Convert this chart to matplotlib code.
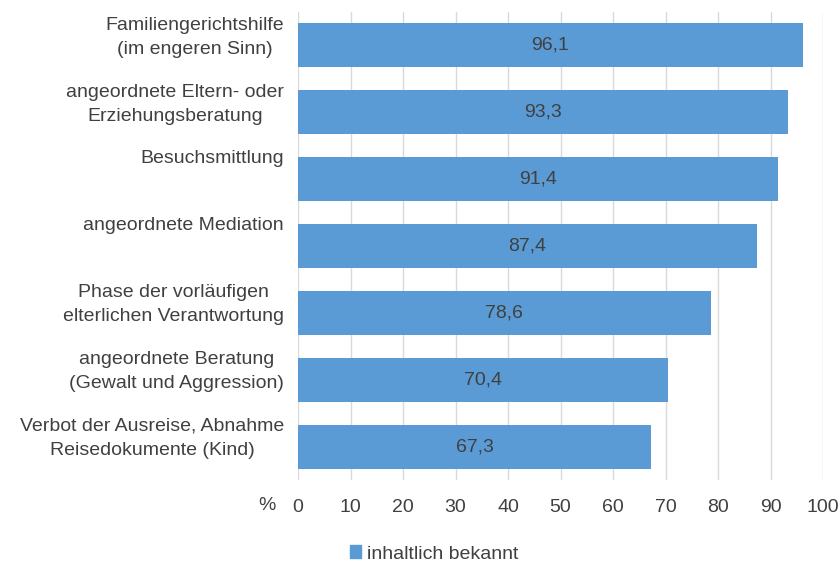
import matplotlib
matplotlib.use("Agg")
from matplotlib import pyplot as plt
from matplotlib.patches import Patch
from matplotlib.transforms import blended_transform_factory

# Data
labels = ["Familiengerichtshilfe\n(im engeren Sinn)",
          "angeordnete Eltern- oder\nErziehungsberatung",
          "Besuchsmittlung",
          "angeordnete Mediation",
          "Phase der vorläufigen\nelterlichen Verantwortung",
          "angeordnete Beratung\n(Gewalt und Aggression)",
          "Verbot der Ausreise, Abnahme\nReisedokumente (Kind)"]
values = [96.1, 93.3, 91.4, 87.4, 78.6, 70.4, 67.3]
ticks = [0, 10, 20, 30, 40, 50, 60, 70, 80, 90, 100]
series_name = "inhaltlich bekannt"

plt.rcParams["font.family"] = ["Liberation Sans", "DejaVu Sans"]
txt = "#404040"
blue = "#5b9bd5"
fs = 14

fig = plt.figure(figsize=(8.39, 5.66), dpi=100)
ax = fig.add_axes([298 / 839, 1 - 480 / 566, (823 - 298) / 839, 468 / 566])

pos = list(range(len(values)))
ax.barh(pos, values, height=0.66, color=blue, zorder=2)
ax.set_ylim(len(values) - 0.5, -0.5)
ax.set_xlim(0, 100)
ax.set_xticks(ticks)
ax.set_xticklabels([str(t) for t in ticks])
ax.set_yticks([])
ax.grid(axis="x", color="#d9d9d9", linewidth=1, zorder=0)
for s in ax.spines.values():
    s.set_visible(False)
ax.tick_params(axis="x", length=0, labelsize=fs, colors=txt, pad=14)

for p, v in zip(pos, values):
    ax.text(v / 2, p, f"{v:.1f}".replace(".", ","), ha="center", va="center",
            fontsize=fs, color=txt, zorder=3)

tr = blended_transform_factory(fig.transFigure, ax.transData)
for p, lab in zip(pos, labels):
    ax.text(284 / 839, p - 0.43, lab, transform=tr, ha="right", va="top",
            multialignment="center", fontsize=fs, color=txt, linespacing=1.55)

fig.text(267 / 839, 1 - 506 / 566, "%", ha="center", va="center",
         fontsize=fs, color=txt)

fig.legend(handles=[Patch(color=blue)], labels=[series_name],
           loc="center", bbox_to_anchor=(434 / 839, 1 - 554 / 566),
           frameon=False, fontsize=fs, handlelength=0.6, handleheight=0.6,
           handletextpad=0.3, labelcolor=txt)

fig.savefig("out.png", dpi=100)
